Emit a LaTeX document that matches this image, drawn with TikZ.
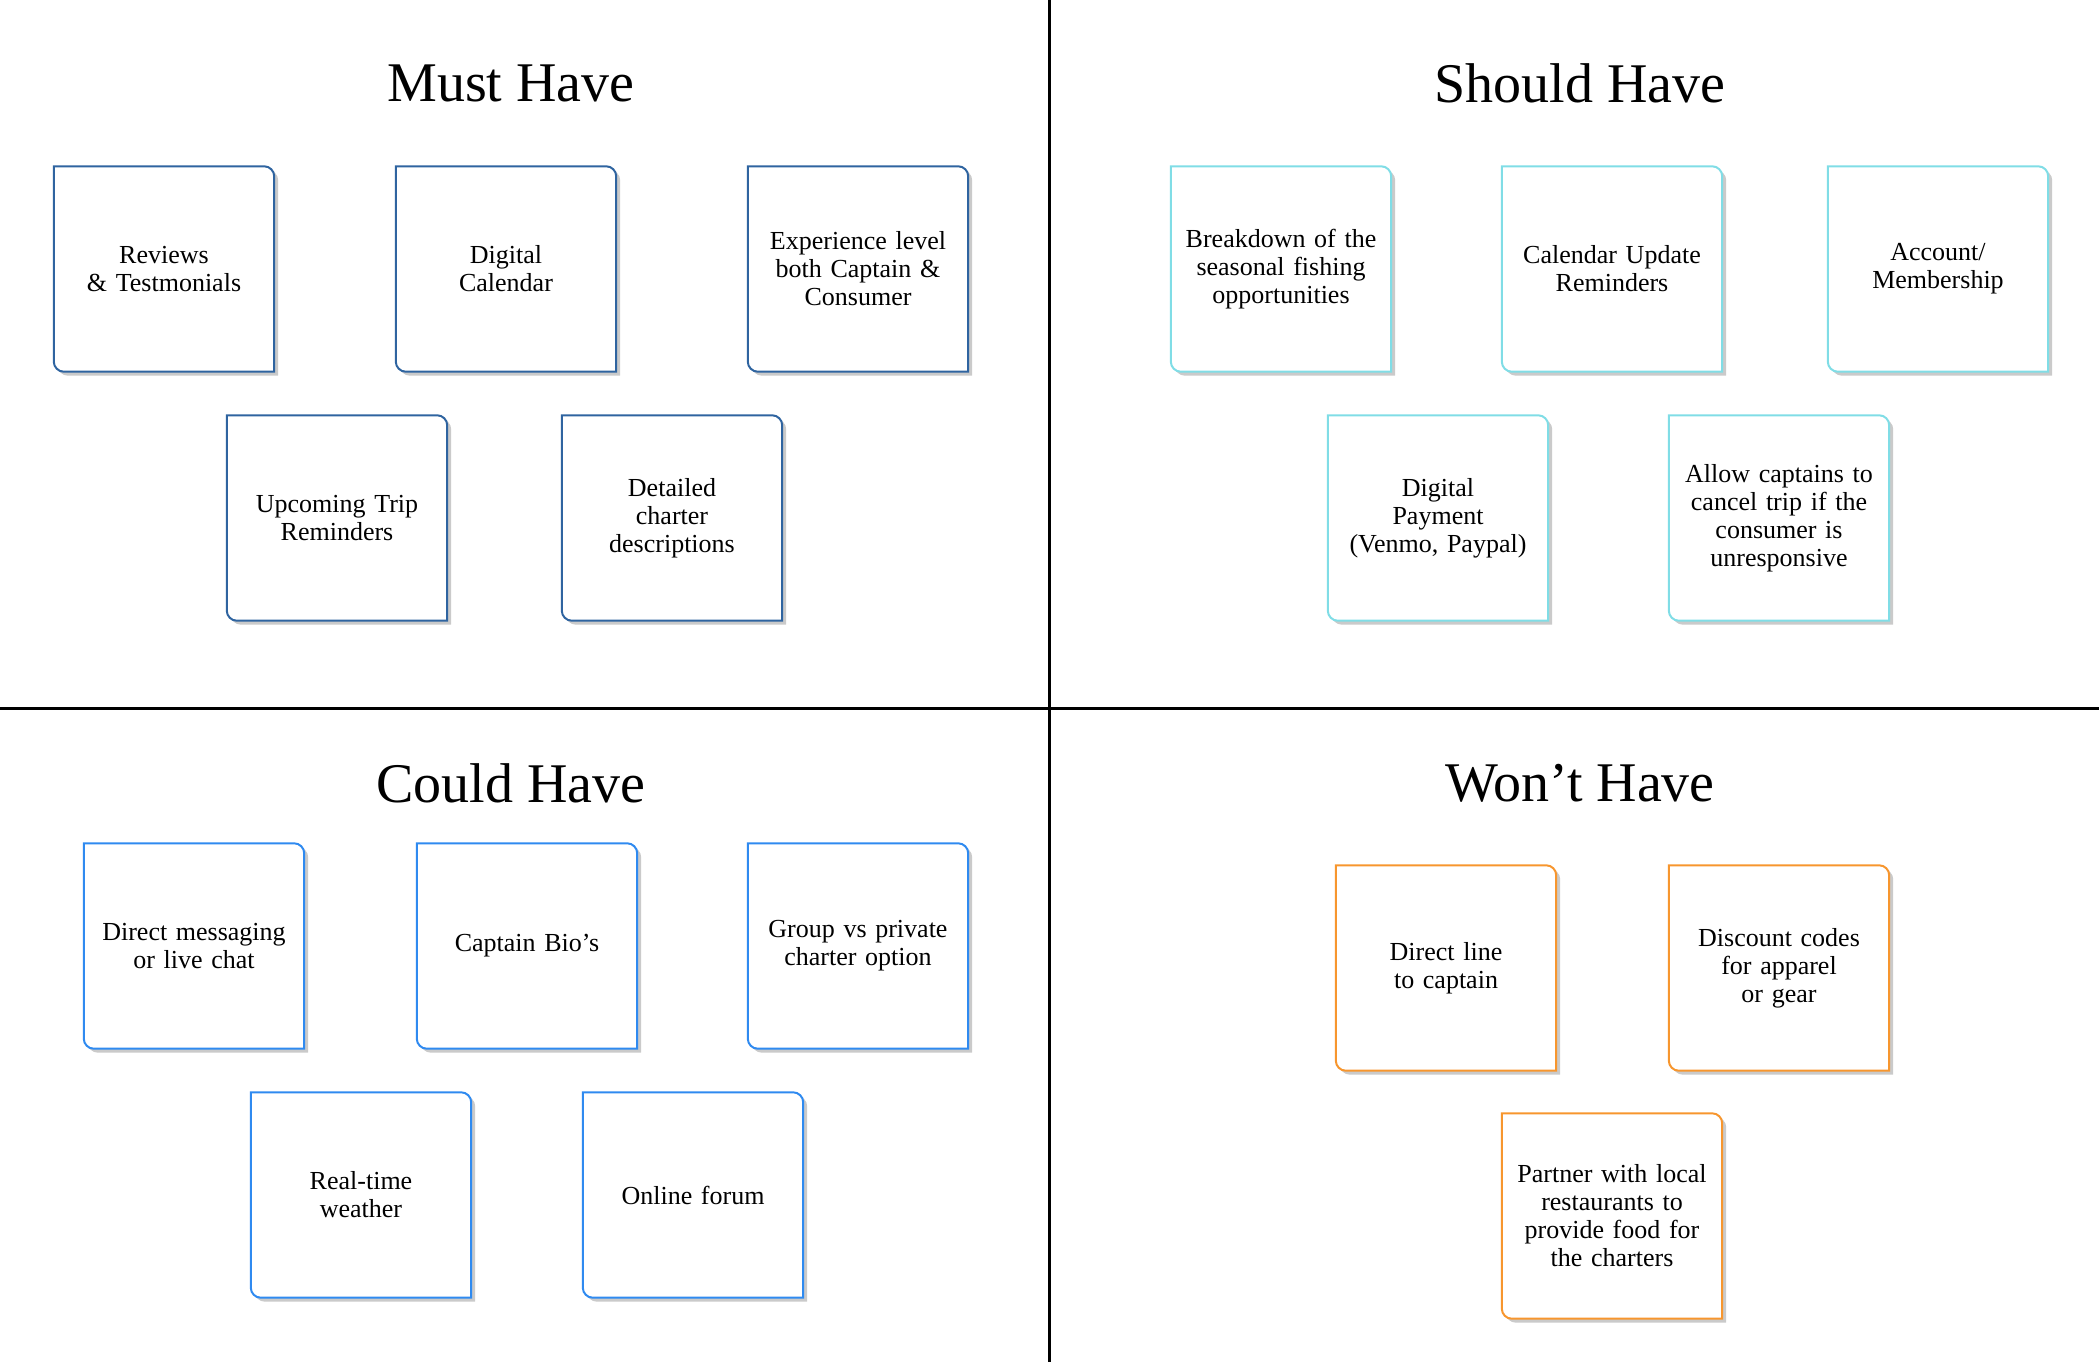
\documentclass[tikz,border=0pt]{standalone}
\usepackage{fontspec}
\setmainfont{Liberation Serif}
\usepackage{tikz}
\usetikzlibrary{shadows, backgrounds}
\definecolor{mustcol}{HTML}{2F64A0}
\definecolor{shouldcol}{HTML}{80DDE6}
\definecolor{couldcol}{HTML}{2F8AF0}
\definecolor{wontcol}{HTML}{F7962E}
\tikzstyle{card} = [rectangle, minimum width=220pt, minimum height=205pt, text width=200pt, align=center, font=\fontsize{26}{28}\selectfont]
\tikzstyle{cardedge} = [fill=white, line width=2pt, drop shadow={shadow xshift=4pt, shadow yshift=-4pt, opacity=0.35, fill=black!60}]
\tikzstyle{heading} = [font=\fontsize{56}{60}\selectfont]
\tikzstyle{divider} = [line width=3pt]

\begin{document}
\begin{tikzpicture}[x=1pt, y=-1pt]
    \useasboundingbox (0,0) rectangle (2099,1362);
    % Quadrant lines
    \draw [divider] (1049,0) -- (1049,1362);
    \draw [divider] (0,708) -- (2099,708);

    % Headings
    \node (musttitle) [heading] at (511,83) {Must Have};
    \node (shouldtitle) [heading] at (1580,83) {Should Have};
    \node (couldtitle) [heading] at (511,783) {Could Have};
    \node (wonttitle) [heading] at (1580,783) {Won’t Have};

    % Must have
    \node (reviews) [card] at (164,269) {Reviews\\ \& Testmonials};
    \node (calendar) [card] at (506,269) {Digital\\Calendar};
    \node (experience) [card] at (858,269) {Experience level\\both Captain \&\\Consumer};
    \node (upcoming) [card] at (337,518) {Upcoming Trip\\Reminders};
    \node (detailed) [card] at (672,518) {Detailed\\charter\\descriptions};

    % Should have
    \node (breakdown) [card] at (1281,269) {Breakdown of the\\seasonal fishing\\opportunities};
    \node (calupdate) [card] at (1612,269) {Calendar Update\\Reminders};
    \node (account) [card] at (1938,269) {Account/\\Membership};
    \node (payment) [card] at (1438,518) {Digital\\Payment\\(Venmo, Paypal)};
    \node (cancel) [card] at (1779,518) {Allow captains to\\cancel trip if the\\consumer is\\unresponsive};

    % Could have
    \node (messaging) [card] at (194,946) {Direct messaging\\or live chat};
    \node (bio) [card] at (527,946) {Captain Bio’s};
    \node (group) [card] at (858,946) {Group vs private\\charter option};
    \node (weather) [card] at (361,1195) {Real-time\\weather};
    \node (forum) [card] at (693,1195) {Online forum};

    % Won't have
    \node (directline) [card] at (1446,968) {Direct line\\to captain};
    \node (discount) [card] at (1779,968) {Discount codes\\for apparel\\or gear};
    \node (partner) [card] at (1612,1216) {Partner with local\\restaurants to\\provide food for\\the charters};

    % Card outlines, rounded top right and bottom left
    \begin{pgfonlayer}{background}
    \foreach \n/\c in {reviews/mustcol, calendar/mustcol, experience/mustcol, upcoming/mustcol, detailed/mustcol,
                       breakdown/shouldcol, calupdate/shouldcol, account/shouldcol, payment/shouldcol, cancel/shouldcol,
                       messaging/couldcol, bio/couldcol, group/couldcol, weather/couldcol, forum/couldcol,
                       directline/wontcol, discount/wontcol, partner/wontcol}
        \draw [cardedge, draw=\c] (\n.north west) -- ([xshift=-10pt]\n.north east)
            .. controls ([xshift=-4.5pt]\n.north east) and ([yshift=-4.5pt]\n.north east) .. ([yshift=-10pt]\n.north east)
            -- (\n.south east) -- ([xshift=10pt]\n.south west)
            .. controls ([xshift=4.5pt]\n.south west) and ([yshift=4.5pt]\n.south west) .. ([yshift=10pt]\n.south west) -- cycle;
    \end{pgfonlayer}
\end{tikzpicture}
\end{document}
